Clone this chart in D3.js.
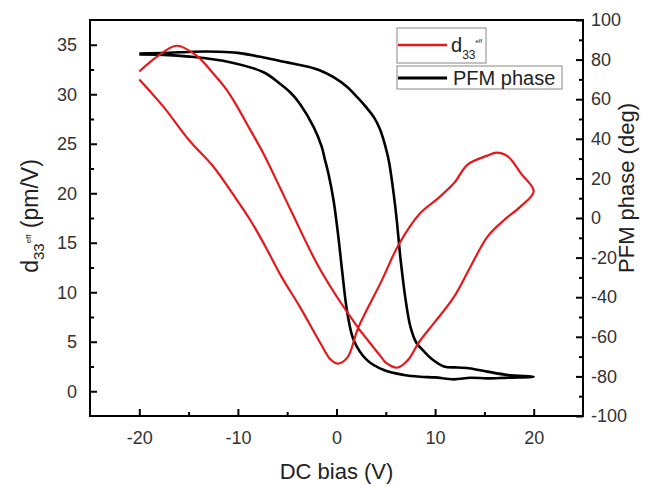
<!DOCTYPE html>
<html>
<head>
<meta charset="utf-8">
<script src="https://cdn.jsdelivr.net/npm/d3@7"></script>
<style>
  body { margin: 0; background: #fff; }
  svg text { font-family: "Liberation Sans", Arial, sans-serif; }
</style>
</head>
<body>
<div id="chart"></div>
<script>
// d33 butterfly loop, in sweep order (DC bias in V, d33 in pm/V)
const d33Bias = [-20, -17.6, -14.9, -12.5, -10.5, -8.75, -7.2, -5.6, -3.7, -1.6, -0.6, 0.1,
    1.1, 2.2, 4.6, 6.3, 8.5, 10.2, 11.9, 13.3, 15.3, 16.2, 17.4, 18.7, 20,
    18.6, 17.0, 15.3, 13.6, 11.9, 9.9, 8.4, 7.2, 6.2,
    5.0, 4.5, 3.3, 2.2, -1.6, -4.5, -5.7, -7.4, -8.8, -10.1, -11.1, -12.5, -14.2, -16.2, -18.2, -20];
const d33Value = [31.5, 28.8, 25.3, 22.7, 19.9, 17.3, 14.6, 11.6, 8.5, 4.8, 3.2, 2.8,
    3.4, 6.4, 11.2, 14.8, 18.0, 19.4, 21.0, 22.9, 23.8, 24.1, 23.7, 22.0, 20.2,
    18.6, 17.3, 15.6, 12.6, 9.5, 6.9, 5.0, 3.1, 2.4,
    2.9, 3.5, 5.0, 6.4, 12.2, 18.0, 20.5, 24.0, 26.5, 28.8, 30.4, 32.1, 33.9, 34.9, 33.8, 32.3];

// PFM phase hysteresis loop (deg)
const phaseBias = [-20, -17, -14.5, -12, -10, -7.4, -5.2, -3, -1.6, -0.3, 1, 2.1, 3.0, 3.8, 4.4, 4.8, 5.3, 6.0, 6.5, 7.0, 7.5, 8.1, 8.9, 9.6, 10.9, 12.3, 13.6, 15.3, 17.4, 20,
    17.4, 15.3, 13.6, 11.9, 10, 8.5, 6.85, 4.8, 3.1, 1.75, 1.1, 0.6, 0.2, -0.3, -0.8, -1.2, -1.5, -2.3, -3.7, -4.7, -5.7, -7.4, -10.8, -14.9, -17.5, -20];
const phaseValue = [83, 83.4, 84, 84, 83.4, 81.1, 78.8, 76.5, 74.4, 71.1, 66.5, 61, 56, 50.8, 45, 39, 29, 4, -21, -41, -55, -63, -67.5, -71, -75, -75.5, -76, -77.6, -79.3, -80.2,
    -80.6, -81, -80.7, -81.5, -80.5, -80.2, -79.3, -76.8, -71.8, -61.7, -48, -28, -10, 9, 22, 30, 36, 45.8, 57.6, 63.5, 67.7, 73.6, 78.7, 81.5, 82.4, 82.6];

const xMajor = [-20, -10, 0, 10, 20];
const xMinor = [-15, -5, 5, 15];
const yLeftMajor = [0, 5, 10, 15, 20, 25, 30, 35];
const yLeftMinor = [2.5, 7.5, 12.5, 17.5, 22.5, 27.5, 32.5];
const yRightMajor = [-100, -80, -60, -40, -20, 0, 20, 40, 60, 80, 100];
const yRightMinor = [-90, -70, -50, -30, -10, 10, 30, 50, 70, 90];

const width = 645, height = 486;
const plotLeft = 90, plotRight = 583, plotTop = 20, plotBottom = 416;
const red = "#e3191c";

const svg = d3.select("#chart").append("svg")
    .attr("width", width)
    .attr("height", height);

const x = d3.scaleLinear().domain([-25, 25]).range([plotLeft, plotRight]);
const yL = d3.scaleLinear().domain([-2.5, 37.5]).range([plotBottom, plotTop]);
const yR = d3.scaleLinear().domain([-100, 100]).range([plotBottom, plotTop]);

// curves
const line = (xs, ys, yScale) => d3.line()
    .x((d, i) => x(xs[i]))
    .y((d, i) => yScale(ys[i]))
    .curve(d3.curveCatmullRom.alpha(0.5))(xs);

svg.append("path")
    .attr("d", line(phaseBias, phaseValue, yR))
    .attr("fill", "none")
    .attr("stroke", "#000")
    .attr("stroke-width", 2.6);

svg.append("path")
    .attr("d", line(d33Bias, d33Value, yL))
    .attr("fill", "none")
    .attr("stroke", red)
    .attr("stroke-width", 2.2);

// axes, ticks pointing inward
function styleAxis(g) {
    g.select(".domain").remove();
    g.selectAll(".tick line").attr("stroke", "#000").attr("stroke-width", 2);
    g.selectAll(".tick text").attr("fill", "#333").attr("font-size", 18)
        .text(function () { return d3.select(this).text().replace("−", "-"); });
}

svg.append("g")
    .attr("transform", `translate(0,${plotBottom})`)
    .call(d3.axisBottom(x).tickValues(xMajor).tickSize(-7).tickPadding(15).tickFormat(d3.format("d")))
    .call(styleAxis);
svg.append("g")
    .attr("transform", `translate(0,${plotBottom})`)
    .call(d3.axisBottom(x).tickValues(xMinor).tickSize(-4).tickFormat(""))
    .call(styleAxis);

svg.append("g")
    .attr("transform", `translate(${plotLeft},0)`)
    .call(d3.axisLeft(yL).tickValues(yLeftMajor).tickSize(-7).tickPadding(13).tickFormat(d3.format("d")))
    .call(styleAxis);
svg.append("g")
    .attr("transform", `translate(${plotLeft},0)`)
    .call(d3.axisLeft(yL).tickValues(yLeftMinor).tickSize(-4).tickFormat(""))
    .call(styleAxis);

svg.append("g")
    .attr("transform", `translate(${plotRight},0)`)
    .call(d3.axisRight(yR).tickValues(yRightMajor).tickSize(-7).tickPadding(8).tickFormat(d3.format("d")))
    .call(styleAxis);
svg.append("g")
    .attr("transform", `translate(${plotRight},0)`)
    .call(d3.axisRight(yR).tickValues(yRightMinor).tickSize(-4).tickFormat(""))
    .call(styleAxis);

// frame
svg.append("rect")
    .attr("x", plotLeft).attr("y", plotTop)
    .attr("width", plotRight - plotLeft).attr("height", plotBottom - plotTop)
    .attr("fill", "none")
    .attr("stroke", "#000")
    .attr("stroke-width", 2);

// axis titles
svg.append("text")
    .attr("x", (plotLeft + plotRight) / 2)
    .attr("y", 479)
    .attr("text-anchor", "middle")
    .attr("font-size", 22)
    .attr("fill", "#222")
    .text("DC bias (V)");

const yTitle = svg.append("text")
    .attr("transform", "translate(38,216) rotate(-90)")
    .attr("text-anchor", "middle")
    .attr("font-size", 23)
    .attr("fill", "#222");
yTitle.append("tspan").text("d");
yTitle.append("tspan").attr("font-size", 15).attr("dy", 6).text("33");
yTitle.append("tspan").attr("font-size", 8).attr("dy", -13).text("eff");
yTitle.append("tspan").attr("dy", 7).text(" (pm/V)");

svg.append("text")
    .attr("transform", "translate(634,188) rotate(-90)")
    .attr("text-anchor", "middle")
    .attr("font-size", 22)
    .attr("fill", "#222")
    .text("PFM phase (deg)");

// legend
const legend = svg.append("g");
legend.append("rect")
    .attr("x", 397).attr("y", 28).attr("width", 89).attr("height", 35)
    .attr("fill", "#fff").attr("stroke", "#888").attr("stroke-width", 1);
legend.append("rect")
    .attr("x", 397).attr("y", 66).attr("width", 165).attr("height", 23)
    .attr("fill", "#fff").attr("stroke", "#888").attr("stroke-width", 1);
legend.append("line")
    .attr("x1", 398).attr("x2", 447).attr("y1", 45).attr("y2", 45)
    .attr("stroke", red).attr("stroke-width", 2.5);
legend.append("line")
    .attr("x1", 398).attr("x2", 447).attr("y1", 78).attr("y2", 78)
    .attr("stroke", "#000").attr("stroke-width", 3);

const legD = legend.append("text")
    .attr("x", 451).attr("y", 52)
    .attr("font-size", 20)
    .attr("fill", "#222");
legD.append("tspan").text("d");
legD.append("tspan").attr("font-size", 12).attr("dy", 7).text("33");
legD.append("tspan").attr("font-size", 6).attr("dy", -16).text("eff");

legend.append("text")
    .attr("x", 453).attr("y", 85)
    .attr("font-size", 20)
    .attr("fill", "#222")
    .text("PFM phase");
</script>
</body>
</html>
